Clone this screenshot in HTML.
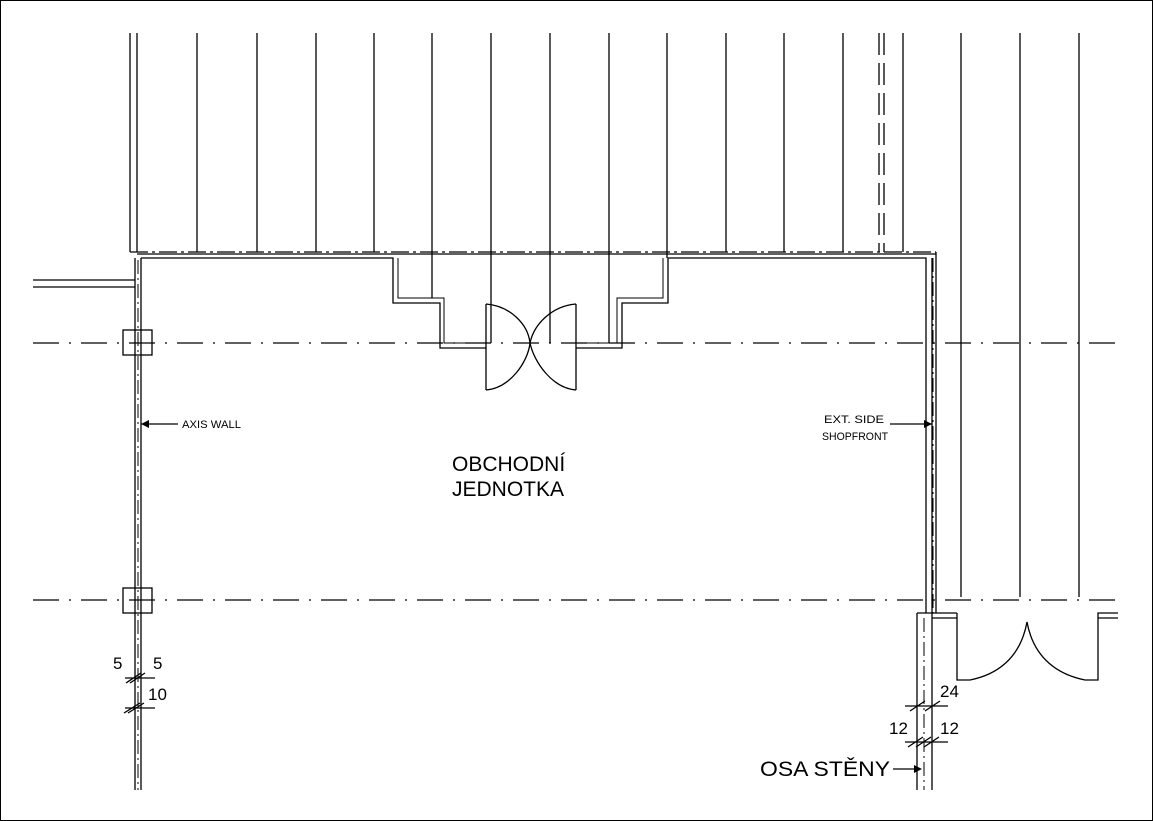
<!DOCTYPE html>
<html><head><meta charset="utf-8"><style>
html,body{margin:0;padding:0;background:#fff}
svg{display:block}
text{font-family:"Liberation Sans",sans-serif;fill:#000}
</style></head><body>
<svg width="1153" height="821" viewBox="0 0 1153 821" xmlns="http://www.w3.org/2000/svg">
<rect x="0.5" y="0.5" width="1152" height="820" fill="#fff" stroke="#000" stroke-width="1"/>
<g stroke="#000" stroke-width="1.3" fill="none">
<path d="M130 33V252 M137 33V252 M197 33V252 M257 33V252 M316 33V252 M374 33V252 M432 33V298 M491 33V343 M550 33V343 M609 33V343 M667 33V258 M726 33V252 M784 33V252 M843 33V252 M903 33V252"/>
<path d="M879 33V252 M884 33V252" stroke-dasharray="22,8"/>
<path d="M961 33V597 M1020 33V597 M1079 33V597"/>
<path d="M130 252H936" stroke-dasharray="18,4,3,4"/>
<path d="M137 254H936"/>
<path d="M141 258H393V303H440V348H486 M576 348H622V303H668V258H926V613"/>
<path d="M398 258V298H444V343H486 M576 343H617V298H663V258" stroke-width="1"/>
<path d="M932 258V613 M936 252V613" />
<path d="M933 258V613" stroke-dasharray="14,4,2,4" stroke-width="1"/>
<path d="M135 258V790 M141 258V790"/>
<path d="M138 260V790" stroke-dasharray="14,4,2,4" stroke-width="1"/>
<path d="M33 280H135 M33 287H135"/>
<rect x="123" y="330" width="29" height="25"/>
<rect x="123" y="588" width="29" height="25"/>
<path d="M33 343H1118 M33 600H1118" stroke-dasharray="26,10,2,10" stroke-width="1.2"/>
<path d="M486 304V390 M486 304C510 306 528 324 530 343C528 362 510 388 486 390"/>
<path d="M576 304V390 M576 304C552 306 534 324 530 343C534 362 552 388 576 390"/>
<path d="M917 613V790 M932 613V790 M917 613H957 M932 618H957 M957 613V680H970C995 675 1020 660 1027 622C1034 660 1060 675 1085 680H1098V613H1118 M1098 618H1118"/>
<path d="M924 618V790" stroke-dasharray="14,4,2,4" stroke-width="1"/>
<path d="M125 678H155 M125 708H155 M130 683L145 673 M126 683L141 673 M128 713L144 703 M124 713L140 703"/>
<path d="M905 706H948 M905 742H948 M910 711L925 701 M925 711L940 701 M908 747L923 737 M916 747L931 737 M924 747L939 737"/>
<path d="M178 424H141 M890 424H932 M893 769H920"/>
</g>
<g fill="#000">
<path d="M141 424L149 420L149 428Z"/>
<path d="M932 424L924 420L924 428Z"/>
<path d="M922 769L914 765L914 773Z"/>
</g>
<text x="182" y="428" font-size="11" textLength="59" lengthAdjust="spacingAndGlyphs">AXIS WALL</text>
<text x="824" y="423" font-size="11" textLength="60" lengthAdjust="spacingAndGlyphs">EXT. SIDE</text>
<text x="822" y="440" font-size="11" textLength="66" lengthAdjust="spacingAndGlyphs">SHOPFRONT</text>
<text x="452" y="471" font-size="21">OBCHODNÍ</text>
<text x="452" y="496" font-size="21">JEDNOTKA</text>
<text x="113" y="669" font-size="17">5</text>
<text x="153" y="669" font-size="17">5</text>
<text x="148" y="700" font-size="17">10</text>
<text x="940" y="697" font-size="17">24</text>
<text x="889" y="734" font-size="17">12</text>
<text x="940" y="734" font-size="17">12</text>
<text x="760" y="776" font-size="21" textLength="130" lengthAdjust="spacingAndGlyphs">OSA STĚNY</text>
</svg>
</body></html>
